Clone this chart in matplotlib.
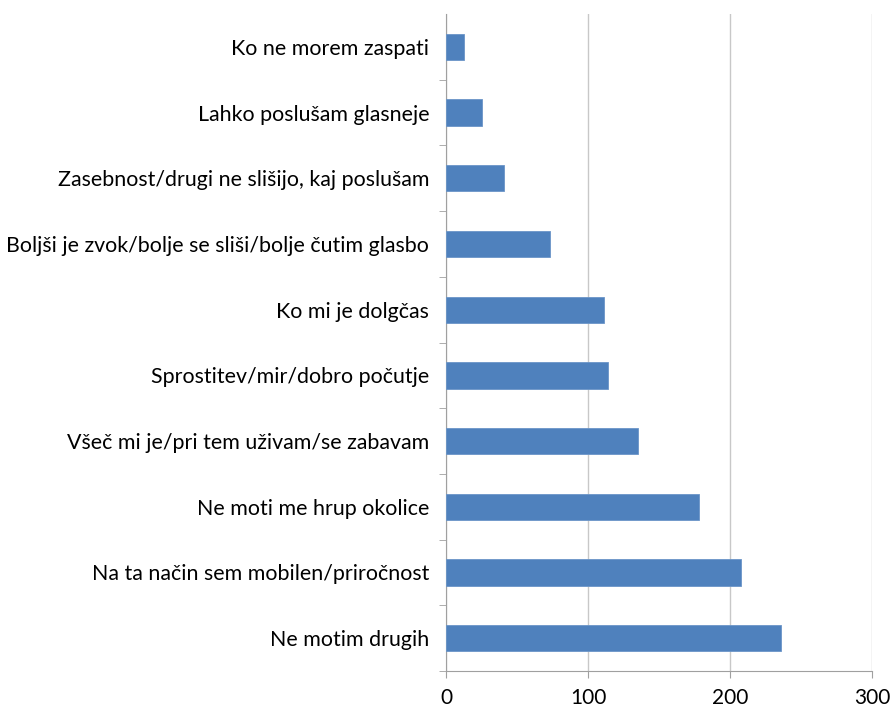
import numpy as np
from matplotlib import pyplot as plt

# Survey answers, bottom to top as drawn
reasons = [
    "Ne motim drugih",
    "Na ta način sem mobilen/priročnost",
    "Ne moti me hrup okolice",
    "Všeč mi je/pri tem uživam/se zabavam",
    "Sprostitev/mir/dobro počutje",
    "Ko mi je dolgčas",
    "Boljši je zvok/bolje se sliši/bolje čutim glasbo",
    "Zasebnost/drugi ne slišijo, kaj poslušam",
    "Lahko poslušam glasneje",
    "Ko ne morem zaspati",
]
counts = [236, 208, 178, 135, 114, 111, 73, 41, 25, 13]
x_ticks = [0, 100, 200, 300]

plt.rcParams['font.family'] = ['Lato', 'DejaVu Sans']

fig = plt.figure(figsize=(8.91, 7.09), dpi=100)
ax = fig.add_axes([0.5006, 0.0536, 0.4781, 0.9266])

pos = np.arange(len(reasons))
ax.barh(pos, counts, height=0.4, color='#4F81BD', edgecolor='#6B95C8', linewidth=0.6, zorder=3)

ax.set_xlim(0, 300)
ax.set_ylim(-0.5, len(reasons) - 0.5)
ax.set_xticks(x_ticks)
ax.set_xticklabels([str(t) for t in x_ticks], fontsize=15)
ax.set_yticks(pos)
ax.set_yticklabels(reasons, fontsize=15.4)
ax.set_yticks(np.arange(len(reasons)) - 0.5, minor=True)

ax.tick_params(axis='y', which='major', length=0, pad=12)
ax.tick_params(axis='y', which='minor', length=5, color='#A0A0A0', direction='out')
ax.tick_params(axis='x', length=5, color='#A0A0A0', pad=7)

ax.grid(axis='x', color='#C8C8C8', linewidth=1, zorder=0)
for side in ['top', 'right']:
    ax.spines[side].set_visible(False)
for side in ['left', 'bottom']:
    ax.spines[side].set_color('#A0A0A0')

fig.savefig('out.png', dpi=100)
